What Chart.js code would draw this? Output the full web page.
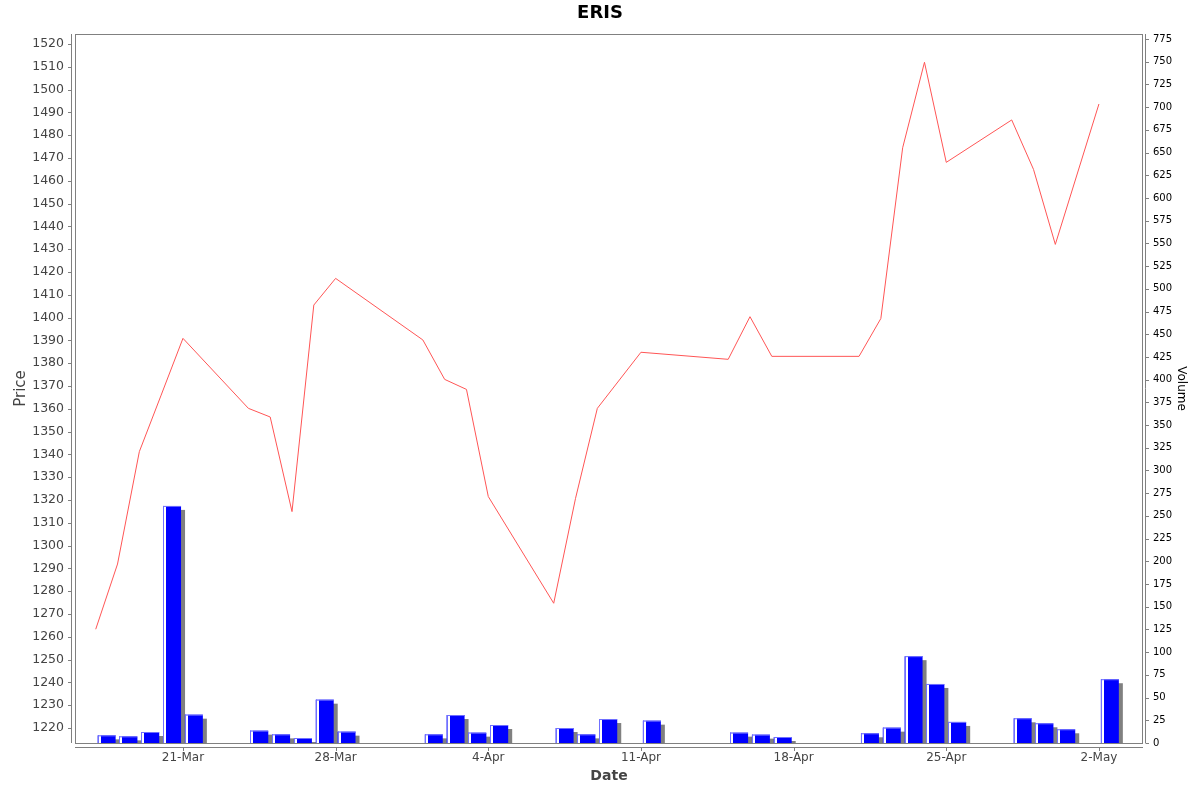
<!DOCTYPE html>
<html>
<head>
<meta charset="utf-8">
<title>ERIS</title>
<script src="https://cdn.jsdelivr.net/npm/chart.js@4.4.1/dist/chart.umd.min.js"></script>
<style>
  html, body { margin: 0; padding: 0; background: #fff; }
  #chart { display: block; }
</style>
</head>
<body>
<canvas id="chart" width="1200" height="792"></canvas>
<script>
// trading days, closing price and volume
const tradeDates = [
  '2025-03-17', '2025-03-18', '2025-03-19', '2025-03-20', '2025-03-21',
  '2025-03-24', '2025-03-25', '2025-03-26', '2025-03-27', '2025-03-28',
  '2025-04-01', '2025-04-02', '2025-04-03', '2025-04-04',
  '2025-04-07', '2025-04-08', '2025-04-09', '2025-04-11',
  '2025-04-15', '2025-04-16', '2025-04-17',
  '2025-04-21', '2025-04-22', '2025-04-23', '2025-04-24', '2025-04-25',
  '2025-04-28', '2025-04-29', '2025-04-30', '2025-05-02'
];
const closePrices = [
  1263.3, 1291.9, 1341.2, 1366.0, 1390.9,
  1360.2, 1356.4, 1314.9, 1405.5, 1417.2,
  1390.2, 1372.9, 1368.5, 1321.5,
  1274.7, 1320.7, 1360.2, 1384.8,
  1381.7, 1400.4, 1383.0,
  1383.0, 1399.6, 1474.5, 1512.0, 1468.1,
  1486.7, 1465.0, 1432.1, 1493.7
];
const volumes = [
  8.4, 7.3, 12.1, 261, 31.2,
  13.6, 9.5, 5.5, 47.7, 12.5,
  9.5, 30.8, 11.4, 19.8,
  16.5, 9.5, 26.4, 24.6,
  11.4, 9.2, 6.6,
  10.7, 16.9, 95.6, 65.0, 23.2,
  27.2, 21.7, 15.1, 70.2
];
const dateTicks = ['2025-03-21', '2025-03-28', '2025-04-04', '2025-04-11', '2025-04-18', '2025-04-25', '2025-05-02'];
const monthNames = ['Jan', 'Feb', 'Mar', 'Apr', 'May', 'Jun', 'Jul', 'Aug', 'Sep', 'Oct', 'Nov', 'Dec'];

function dayNum(s) {
  const p = s.split('-');
  return Date.UTC(+p[0], +p[1] - 1, +p[2]) / 86400000;
}
function dayLabel(n) {
  const d = new Date(Math.round(n) * 86400000);
  return d.getUTCDate() + '-' + monthNames[d.getUTCMonth()];
}

const priceData = tradeDates.map((d, i) => ({ x: dayNum(d), y: closePrices[i] }));
// each volume bar covers its whole day, so it sits half a day right of the price point
const volumeData = tradeDates.map((d, i) => ({ x: dayNum(d) + 0.5, y: volumes[i] }));

const FONT = 'DejaVu Sans';
const AXIS_GREY = '#808080';

// plot outline, offset axis lines, bar shadows and bar highlight
const framePlugin = {
  id: 'frame',
  beforeDatasetDraw(chart, args) {
    if (args.meta.type !== 'bar') return;
    const ctx = chart.ctx, a = chart.chartArea;
    ctx.save();
    ctx.beginPath();
    ctx.rect(a.left, a.top, a.right - a.left, a.bottom - a.top);
    ctx.clip();
    ctx.fillStyle = '#808080';
    args.meta.data.forEach(el => {
      const p = el.getProps(['x', 'y', 'base', 'width'], true);
      ctx.fillRect(p.x - p.width / 2 + 4, p.y + 4, p.width, p.base - p.y);
    });
    ctx.restore();
  },
  afterDatasetDraw(chart, args) {
    if (args.meta.type !== 'bar') return;
    const ctx = chart.ctx;
    ctx.save();
    args.meta.data.forEach(el => {
      const p = el.getProps(['x', 'y', 'base', 'width'], true);
      const l = Math.round(p.x - p.width / 2);
      const h = p.base - p.y;
      ctx.fillStyle = '#ffffff';
      ctx.fillRect(l + 1, p.y, 2, h);
      ctx.fillStyle = '#7070ff';
      ctx.fillRect(l, p.y, 1, h);
      ctx.fillRect(l, p.y, p.width, 1);
    });
    ctx.restore();
  },
  afterDatasetsDraw(chart) {
    const ctx = chart.ctx, a = chart.chartArea;
    const sx = chart.scales.x, sy = chart.scales.y, sv = chart.scales.yVol;
    ctx.save();
    ctx.strokeStyle = AXIS_GREY;
    ctx.lineWidth = 1;
    ctx.strokeRect(a.left + 0.5, a.top + 0.5, a.right - a.left - 1, a.bottom - a.top);
    ctx.beginPath();
    // left price axis
    ctx.moveTo(a.left - 3.5, a.top);
    ctx.lineTo(a.left - 3.5, a.bottom);
    sy.ticks.forEach(t => {
      const y = Math.round(sy.getPixelForValue(t.value)) + 0.5;
      ctx.moveTo(a.left - 7, y);
      ctx.lineTo(a.left - 3.5, y);
    });
    // right volume axis
    ctx.moveTo(a.right + 2.5, a.top);
    ctx.lineTo(a.right + 2.5, a.bottom);
    sv.ticks.forEach(t => {
      const y = Math.round(sv.getPixelForValue(t.value)) + 0.5;
      ctx.moveTo(a.right + 2.5, y);
      ctx.lineTo(a.right + 6, y);
    });
    // bottom date axis
    ctx.moveTo(a.left, a.bottom + 4.5);
    ctx.lineTo(a.right, a.bottom + 4.5);
    sx.ticks.forEach(t => {
      const x = Math.round(sx.getPixelForValue(t.value)) + 0.5;
      ctx.moveTo(x, a.bottom + 4.5);
      ctx.lineTo(x, a.bottom + 8);
    });
    ctx.stroke();
    ctx.restore();
  }
};

new Chart(document.getElementById('chart'), {
  data: {
    datasets: [{
      type: 'line',
      label: 'Price',
      data: priceData,
      yAxisID: 'y',
      borderColor: '#ff5555',
      borderWidth: 1,
      pointRadius: 0,
      tension: 0,
      order: 0
    }, {
      type: 'bar',
      label: 'Volume',
      data: volumeData,
      yAxisID: 'yVol',
      backgroundColor: '#0000ff',
      borderWidth: 0,
      barPercentage: 0.825,
      categoryPercentage: 1,
      order: 1
    }]
  },
  options: {
    responsive: false,
    animation: false,
    devicePixelRatio: 1,
    layout: { padding: 0 },
    plugins: {
      legend: { display: false },
      tooltip: { enabled: false },
      title: {
        display: true,
        text: 'ERIS',
        color: '#000',
        font: { family: FONT, size: 18, weight: 'bold' },
        padding: { top: 2.6, bottom: 9.8 }
      }
    },
    scales: {
      x: {
        type: 'linear',
        position: 'bottom',
        offset: false,
        min: dayNum('2025-03-21') - 4.95,
        max: dayNum('2025-03-21') + 44.02,
        afterBuildTicks: scale => {
          scale.ticks = dateTicks.map(d => ({ value: dayNum(d) }));
        },
        afterFit: scale => { scale.height = 49; },
        grid: { display: false, drawTicks: false },
        border: { display: false },
        ticks: {
          autoSkip: false,
          maxRotation: 0,
          padding: 8,
          color: '#444',
          font: { family: FONT, size: 12 },
          callback: v => dayLabel(v)
        },
        title: {
          display: true,
          text: 'Date',
          color: '#444',
          font: { family: FONT, size: 14, weight: 'bold' },
          padding: { top: 0, bottom: 7 }
        }
      },
      y: {
        type: 'linear',
        position: 'left',
        min: 1213.4,
        max: 1524.4,
        afterFit: scale => { scale.width = 75; },
        grid: { display: false, drawTicks: false },
        border: { display: false },
        ticks: {
          stepSize: 10,
          includeBounds: false,
          autoSkip: false,
          padding: 11,
          color: '#444',
          font: { family: FONT, size: 12.5 },
          callback: v => String(v)
        },
        title: {
          display: true,
          text: 'Price',
          color: '#444',
          font: { family: FONT, size: 15 },
          padding: { top: 12.5, bottom: 0 }
        }
      },
      yVol: {
        type: 'linear',
        position: 'right',
        min: 0,
        max: 780.5,
        afterFit: scale => { scale.width = 57; },
        grid: { display: false, drawTicks: false },
        border: { display: false },
        ticks: {
          stepSize: 25,
          includeBounds: false,
          autoSkip: false,
          padding: 10,
          color: '#000',
          font: { family: FONT, size: 10 },
          callback: v => String(v)
        },
        title: {
          display: true,
          text: 'Volume',
          color: '#000',
          font: { family: FONT, size: 12 },
          padding: { top: 11.8, bottom: 0 }
        }
      }
    }
  },
  plugins: [framePlugin]
});
</script>
</body>
</html>
